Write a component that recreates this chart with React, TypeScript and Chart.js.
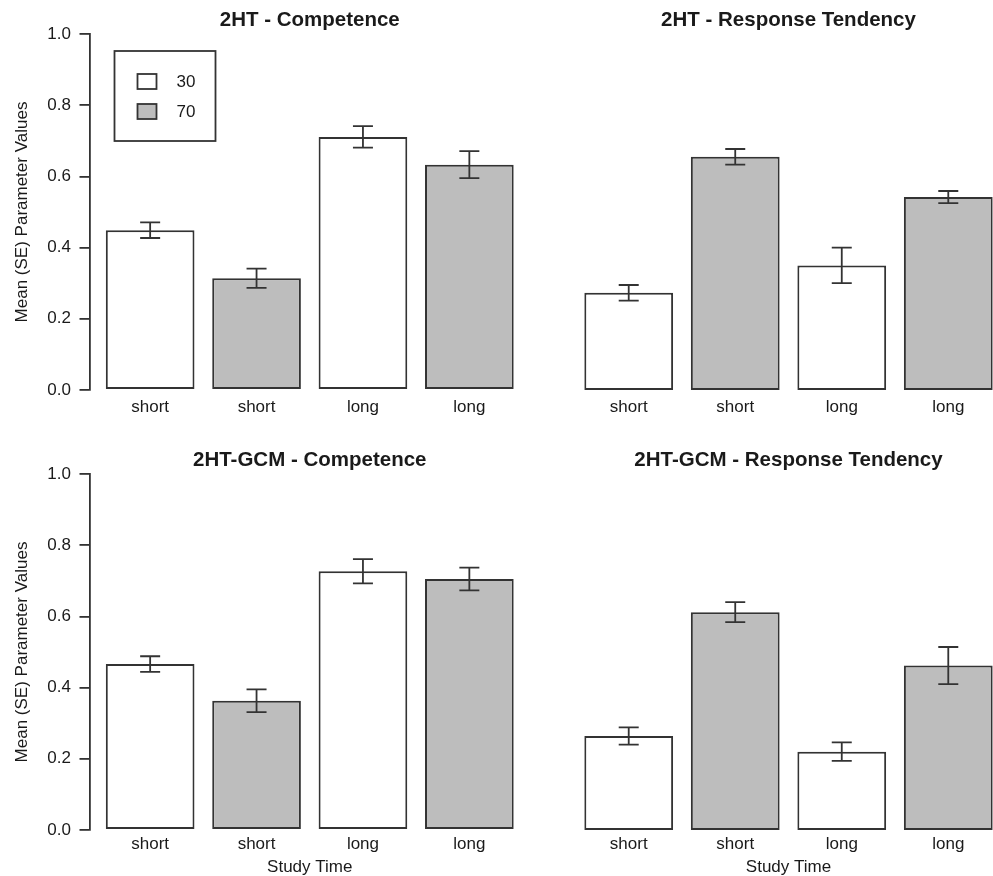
import React, { useEffect, useRef } from 'react';
import { Chart, registerables } from 'chart.js';

Chart.register(...registerables);

// ---- data ----
const timeLabels = ['short', 'short', 'long', 'long'];
const groupLabels = ['30', '70'];
const barGroup = [0, 1, 0, 1];
const yTickValues = [0, 0.2, 0.4, 0.6, 0.8, 1.0];

const ht2CompetenceMean = [0.449, 0.314, 0.711, 0.633];
const ht2CompetenceSE = [0.022, 0.027, 0.030, 0.038];
const ht2ResponseMean = [0.273, 0.655, 0.350, 0.542];
const ht2ResponseSE = [0.022, 0.022, 0.050, 0.017];
const gcmCompetenceMean = [0.466, 0.363, 0.727, 0.705];
const gcmCompetenceSE = [0.022, 0.032, 0.034, 0.032];
const gcmResponseMean = [0.264, 0.612, 0.220, 0.462];
const gcmResponseSE = [0.024, 0.028, 0.026, 0.052];

const yAxisTitle = 'Mean (SE) Parameter Values';
const xAxisTitle = 'Study Time';

// ---- styles ----
const FONT = '"Liberation Sans", Arial, Helvetica, sans-serif';
const INK = '#333333';
const TEXT = '#1a1a1a';
const groupFill = ['#ffffff', '#bdbdbd'];

type PanelProps = {
  title: string;
  means: number[];
  ses: number[];
  left: number;
  top: number;
  boxWidth: number;
  canvasWidth: number;
  canvasHeight: number;
  padLeft: number;
  padRight: number;
  showY: boolean;
  showLegend: boolean;
  showXTitle: boolean;
  tickPad: number;
};

function Panel(p: PanelProps) {
  const ref = useRef<HTMLCanvasElement | null>(null);

  useEffect(() => {
    if (!ref.current) return;

    const errorBars = {
      id: 'errorBars',
      afterDatasetsDraw(chart: any) {
        const { ctx, scales } = chart;
        const x = scales.x;
        const y = scales.y;
        ctx.save();
        ctx.strokeStyle = INK;
        ctx.lineWidth = 1.8;
        p.means.forEach((m, i) => {
          const cx = x.getPixelForValue(i + 1);
          const yHi = y.getPixelForValue(m + p.ses[i]);
          const yLo = y.getPixelForValue(m - p.ses[i]);
          ctx.beginPath();
          ctx.moveTo(cx, yHi);
          ctx.lineTo(cx, yLo);
          ctx.moveTo(cx - 10, yHi);
          ctx.lineTo(cx + 10, yHi);
          ctx.moveTo(cx - 10, yLo);
          ctx.lineTo(cx + 10, yLo);
          ctx.stroke();
        });
        ctx.restore();
      },
    };

    const boxLegend = {
      id: 'boxLegend',
      afterDraw(chart: any) {
        if (!p.showLegend) return;
        const { ctx, chartArea } = chart;
        const bx = chartArea.left + 25;
        const by = chartArea.top + 17;
        ctx.save();
        ctx.strokeStyle = INK;
        ctx.lineWidth = 1.8;
        ctx.strokeRect(bx, by, 101, 90);
        chart.data.datasets.forEach((ds: any, i: number) => {
          const sy = by + 23 + i * 30;
          ctx.fillStyle = ds.backgroundColor;
          ctx.fillRect(bx + 23, sy, 19, 15);
          ctx.strokeRect(bx + 23, sy, 19, 15);
          ctx.fillStyle = TEXT;
          ctx.font = `17px ${FONT}`;
          ctx.textBaseline = 'middle';
          ctx.textAlign = 'left';
          ctx.fillText(ds.label, bx + 62, sy + 8);
        });
        ctx.restore();
      },
    };

    const datasets = groupLabels.map((g, gi) => ({
      label: g,
      data: p.means.map((v, i) => (barGroup[i] === gi ? v : null)),
      backgroundColor: groupFill[gi],
      borderColor: INK,
      borderWidth: 2,
      borderSkipped: false,
      grouped: false,
      barPercentage: 1 / 1.2,
      categoryPercentage: 1,
    }));

    const chart = new Chart(ref.current, {
      type: 'bar',
      data: {
        labels: timeLabels.map((_, i) => i + 1),
        datasets: datasets as any,
      },
      options: {
        animation: false,
        responsive: false,
        events: [],
        layout: { padding: { left: p.padLeft, right: p.padRight, top: 0, bottom: 0 } },
        plugins: {
          legend: { display: false },
          tooltip: { enabled: false },
          title: {
            display: true,
            text: p.title,
            fullSize: false,
            color: TEXT,
            font: { family: FONT, size: 20.5, weight: 'bold', lineHeight: 1.2 },
            padding: { top: 7.7, bottom: 1.7 },
          },
        },
        scales: {
          x: {
            type: 'linear',
            min: 0.43,
            max: 4.57,
            offset: false,
            grid: { display: false, drawTicks: false },
            border: { display: false },
            afterBuildTicks: (s: any) => {
              s.ticks = timeLabels.map((_, i) => ({ value: i + 1 }));
            },
            afterFit: (s: any) => {
              s.height = p.canvasHeight - 390;
            },
            ticks: {
              autoSkip: false,
              maxRotation: 0,
              padding: p.tickPad,
              color: TEXT,
              font: { family: FONT, size: 17, lineHeight: 1.2 },
              callback: (v: any) => timeLabels[Number(v) - 1] ?? '',
            },
            title: {
              display: p.showXTitle,
              text: xAxisTitle,
              color: TEXT,
              font: { family: FONT, size: 17, lineHeight: 1 },
              padding: { top: 0, bottom: 0 },
            },
          },
          y: {
            type: 'linear',
            display: p.showY,
            min: 0,
            max: 1,
            afterBuildTicks: (s: any) => {
              s.ticks = yTickValues.map((v) => ({ value: v }));
            },
            afterFit: (s: any) => {
              s.width = p.showY ? 89.5 : 0;
            },
            grid: {
              display: true,
              drawOnChartArea: false,
              drawTicks: true,
              tickLength: 10,
              color: INK,
              lineWidth: 1.8,
            },
            border: { display: true, color: INK, width: 1.8 },
            ticks: {
              padding: 8.5,
              color: TEXT,
              font: { family: FONT, size: 17, lineHeight: 1.2 },
              callback: (v: any) => Number(v).toFixed(1),
            },
            title: {
              display: true,
              text: yAxisTitle,
              color: TEXT,
              font: { family: FONT, size: 17, lineHeight: 1.2 },
              padding: { top: 12, bottom: 0 },
            },
          },
        },
      } as any,
      plugins: [errorBars, boxLegend],
    });

    return () => chart.destroy();
  }, []);

  return (
    <div
      style={{
        position: 'absolute',
        left: p.left,
        top: p.top,
        width: p.boxWidth,
        height: p.canvasHeight,
        overflow: 'hidden',
      }}
    >
      <canvas ref={ref} width={p.canvasWidth} height={p.canvasHeight} style={{ display: 'block' }} />
    </div>
  );
}

export default function App() {
  return (
    <div
      style={{
        position: 'absolute',
        left: 0,
        top: 0,
        width: 993,
        height: 876,
        overflow: 'hidden',
        background: '#ffffff',
      }}
    >
      <Panel
        title="2HT - Competence"
        means={ht2CompetenceMean}
        ses={ht2CompetenceSE}
        left={0}
        top={0}
        boxWidth={540}
        canvasWidth={540}
        canvasHeight={440}
        padLeft={0}
        padRight={10}
        showY={true}
        showLegend={true}
        showXTitle={false}
        tickPad={7}
      />
      <Panel
        title="2HT - Response Tendency"
        means={ht2ResponseMean}
        ses={ht2ResponseSE}
        left={500}
        top={0}
        boxWidth={493}
        canvasWidth={520}
        canvasHeight={440}
        padLeft={68}
        padRight={11}
        showY={false}
        showLegend={false}
        showXTitle={false}
        tickPad={7}
      />
      <Panel
        title="2HT-GCM - Competence"
        means={gcmCompetenceMean}
        ses={gcmCompetenceSE}
        left={0}
        top={440}
        boxWidth={540}
        canvasWidth={540}
        canvasHeight={436}
        padLeft={0}
        padRight={10}
        showY={true}
        showLegend={false}
        showXTitle={true}
        tickPad={4}
      />
      <Panel
        title="2HT-GCM - Response Tendency"
        means={gcmResponseMean}
        ses={gcmResponseSE}
        left={500}
        top={440}
        boxWidth={493}
        canvasWidth={520}
        canvasHeight={436}
        padLeft={68}
        padRight={11}
        showY={false}
        showLegend={false}
        showXTitle={true}
        tickPad={4}
      />
    </div>
  );
}
